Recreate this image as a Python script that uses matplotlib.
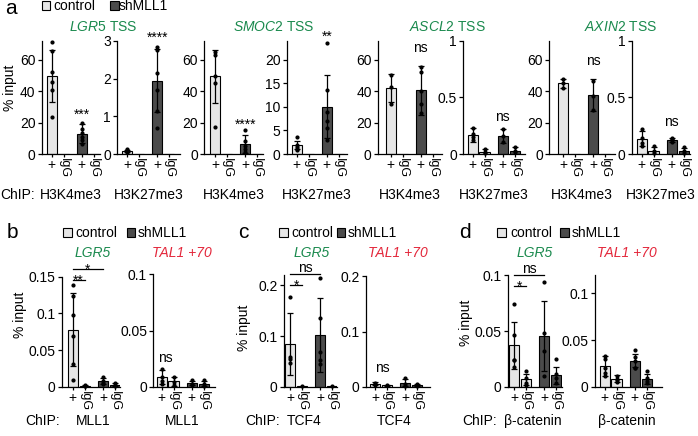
import numpy as np
import matplotlib
matplotlib.use('Agg')
import matplotlib.pyplot as plt
from matplotlib.patches import Rectangle
from matplotlib.ticker import FuncFormatter

W, H = 698, 436
plt.rcParams['font.family'] = ['Liberation Sans', 'DejaVu Sans']
plt.rcParams['font.size'] = 10
plt.rcParams['mathtext.fontset'] = 'custom'
plt.rcParams['mathtext.rm'] = 'Liberation Sans'
plt.rcParams['mathtext.it'] = 'Liberation Sans:italic'

LIGHT = '#e6e6e6'
DARK = '#4b4b4b'
GREEN = '#1b8a4e'
RED = '#e3263a'

tick_names = ['+', 'IgG', '+', 'IgG']
bar_colors = [LIGHT, LIGHT, DARK, DARK]
xpos = [0, 1, 2.55, 3.55]

# ---- panel a: histone marks at TSS (control +, control IgG, shMLL1 +, shMLL1 IgG)
lgr5_k4_mean = [49.5, 0.2, 12.8, 0.2]
lgr5_k4_sd = [16.5, 0, 6, 0]
lgr5_k4_pts = [[71.5, 65.5, 52, 46, 41, 23.5], [], [19.5, 16, 13.5, 11, 9, 6.5], []]

lgr5_k27_mean = [0.08, 0.005, 1.95, 0.005]
lgr5_k27_sd = [0.035, 0, 0.83, 0]
lgr5_k27_pts = [[0.12, 0.1, 0.08, 0.06, 0.05], [], [2.85, 2.75, 2.15, 1.7, 1.15, 0.68], []]

smoc2_k4_mean = [49.5, 0.2, 6.3, 0.2]
smoc2_k4_sd = [17, 0, 5.5, 0]
smoc2_k4_pts = [[65, 63, 50, 45.5, 17.5], [], [15, 8, 5, 3, 1.5], []]

smoc2_k27_mean = [1.9, 0.05, 10, 0.05]
smoc2_k27_sd = [0.9, 0, 6.7, 0]
smoc2_k27_pts = [[3.7, 2.0, 1.5, 1.0, 0.8], [], [23.5, 13.5, 9, 7, 5.5, 3], []]

ascl2_k4_mean = [42, 0.2, 40.5, 0.2]
ascl2_k4_sd = [9, 0, 15.5, 0]
ascl2_k4_pts = [[50.5, 43, 32], [], [55.5, 52, 40, 32, 26], []]

ascl2_k27_mean = [0.17, 0.02, 0.16, 0.03]
ascl2_k27_sd = [0.06, 0.02, 0.06, 0.03]
ascl2_k27_pts = [[0.23, 0.18, 0.15, 0.12], [0.04, 0.02, 0.01], [0.22, 0.16, 0.11], [0.06, 0.03, 0.02]]

axin2_k4_mean = [45, 0.2, 37.5, 0.2]
axin2_k4_sd = [3, 0, 10, 0]
axin2_k4_pts = [[47.5, 45.5, 42], [], [46.5, 37, 28], []]

axin2_k27_mean = [0.135, 0.03, 0.125, 0.025]
axin2_k27_sd = [0.065, 0.03, 0.015, 0.025]
axin2_k27_pts = [[0.22, 0.14, 0.1, 0.07], [0.07, 0.03, 0.01], [0.14, 0.13, 0.12, 0.11], [0.06, 0.03, 0.01]]

# ---- panels b-d: MLL1 / TCF4 / beta-catenin ChIP at LGR5 and TAL1 +70
mll1_lgr5_mean = [0.078, 0.002, 0.0077, 0.003]
mll1_lgr5_sd = [0.05, 0.001, 0.004, 0.002]
mll1_lgr5_pts = [[0.139, 0.124, 0.098, 0.07, 0.031, 0.01], [0.003, 0.002, 0.002],
                 [0.013, 0.008, 0.005, 0.004], [0.005, 0.003, 0.002]]

mll1_tal1_mean = [0.0088, 0.005, 0.0035, 0.003]
mll1_tal1_sd = [0.006, 0.004, 0.002, 0.002]
mll1_tal1_pts = [[0.016, 0.009, 0.005, 0.003], [0.0085, 0.004, 0.002],
                 [0.006, 0.003, 0.002], [0.006, 0.003, 0.001]]

tcf4_lgr5_mean = [0.085, 0.001, 0.103, 0.001]
tcf4_lgr5_sd = [0.061, 0, 0.073, 0]
tcf4_lgr5_pts = [[0.177, 0.06, 0.055, 0.048], [0.001],
                 [0.215, 0.135, 0.068, 0.054, 0.045], [0.001]]

tcf4_tal1_mean = [0.006, 0.003, 0.008, 0.003]
tcf4_tal1_sd = [0.003, 0.001, 0.007, 0.002]
tcf4_tal1_pts = [[0.008, 0.006, 0.004], [0.003], [0.017, 0.005, 0.002], [0.005, 0.002]]

bcat_lgr5_mean = [0.0374, 0.0069, 0.0457, 0.0105]
bcat_lgr5_sd = [0.021, 0.0047, 0.031, 0.0075]
bcat_lgr5_pts = [[0.074, 0.047, 0.024, 0.018, 0.024], [0.0141, 0.008, 0.004, 0.002],
                 [0.094, 0.048, 0.032, 0.01], [0.025, 0.012, 0.008, 0.004]]

bcat_tal1_mean = [0.0225, 0.009, 0.028, 0.0083]
bcat_tal1_sd = [0.0105, 0.0035, 0.007, 0.0055]
bcat_tal1_pts = [[0.033, 0.03, 0.02, 0.015, 0.012], [0.012, 0.009, 0.007, 0.005],
                 [0.04, 0.032, 0.028, 0.02, 0.02], [0.0175, 0.01, 0.006, 0.004]]

fig = plt.figure(figsize=(W / 100, H / 100), dpi=100)

U = 11.8  # pixels per bar slot


def fmt(v, pos):
    return '%g' % v


def make_axes(x0, x1, ybot, ytop, c0, ylim, yticks):
    ax = fig.add_axes([x0 / W, 1 - ybot / H, (x1 - x0) / W, (ybot - ytop) / H])
    ax.set_xlim((x0 - c0) / U, (x1 - c0) / U)
    ax.set_ylim(*ylim)
    ax.set_yticks(yticks)
    ax.yaxis.set_major_formatter(FuncFormatter(fmt))
    for s in ['top', 'right']:
        ax.spines[s].set_visible(False)
    for s in ['left', 'bottom']:
        ax.spines[s].set_linewidth(0.9)
    ax.tick_params(axis='y', length=3, width=0.9, pad=1.5, labelsize=10)
    ax.tick_params(axis='x', length=2, width=0.9, pad=1, labelsize=10)
    ax.set_xticks(xpos)
    labels = ax.set_xticklabels(tick_names)
    for i, lab in enumerate(labels):
        if tick_names[i] == 'IgG':
            lab.set_rotation(270)
            lab.set_va('top')
            lab.set_fontsize(9)
    return ax


def draw_bars(ax, means, sds, pts):
    ax.bar(xpos, means, width=0.85, color=bar_colors, edgecolor='black', linewidth=0.8, zorder=2)
    for x, m, s, p in zip(xpos, means, sds, pts):
        if s > 0:
            ax.errorbar(x, m, yerr=s, fmt='none', ecolor='black', elinewidth=0.9,
                        capsize=2.2, capthick=0.9, zorder=3)
        if p:
            ax.plot([x] * len(p), p, 'o', color='black', markersize=2, zorder=4, clip_on=False)


def figtext(x, y, s, **kw):
    return fig.text(x / W, 1 - y / H, s, **kw)


def legend(x_light, x_ctrl, x_dark, x_sh, yc):
    for xb, col in [(x_light, LIGHT), (x_dark, DARK)]:
        fig.add_artist(Rectangle((xb / W, 1 - (yc + 4.5) / H), 8.5 / W, 9 / H,
                                 transform=fig.transFigure, facecolor=col,
                                 edgecolor='black', linewidth=0.8))
    figtext(x_ctrl, yc, 'control', ha='left', va='center', fontsize=10)
    figtext(x_sh, yc, 'shMLL1', ha='left', va='center', fontsize=10)


def bracket(ax, i, j, y, s, asterisk):
    ax.plot([xpos[i], xpos[j]], [y, y], color='black', lw=0.9, clip_on=False)
    dy = -3.5 if asterisk else 1.5
    ax.annotate(s, ((xpos[i] + xpos[j]) / 2, y), xytext=(0, dy), textcoords='offset points',
                ha='center', va='baseline', fontsize=10, annotation_clip=False)


# ---------------- panel a ----------------
YB, YT = 154, 41
big = (0, 72)
ticks_big = [0, 20, 40, 60]
panel_a = [
    (41.7, 100, 51.7, big, ticks_big, lgr5_k4_mean, lgr5_k4_sd, lgr5_k4_pts, '***', 22.3),
    (117, 180, 127, (0, 3), [0, 1, 2, 3], lgr5_k27_mean, lgr5_k27_sd, lgr5_k27_pts, '****', 2.97),
    (204, 263, 215, big, ticks_big, smoc2_k4_mean, smoc2_k4_sd, smoc2_k4_pts, '****', 15.8),
    (286.7, 347, 296.7, (0, 24), [0, 5, 10, 15, 20], smoc2_k27_mean, smoc2_k27_sd, smoc2_k27_pts, '**', 24.0),
    (378, 442, 390.7, big, ticks_big, ascl2_k4_mean, ascl2_k4_sd, ascl2_k4_pts, 'ns', 64.7),
    (463, 525, 472.7, (0, 1), [0, 0.5, 1], ascl2_k27_mean, ascl2_k27_sd, ascl2_k27_pts, 'ns', 0.29),
    (549, 615, 563.3, big, ticks_big, axin2_k4_mean, axin2_k4_sd, axin2_k4_pts, 'ns', 56.6),
    (631.7, 690, 641.7, (0, 1), [0, 0.5, 1], axin2_k27_mean, axin2_k27_sd, axin2_k27_pts, 'ns', 0.25),
]
chip_a = ['H3K4me3', 'H3K27me3'] * 4
for k, (x0, x1, c0, ylim, yt, m, s, p, sig, sy) in enumerate(panel_a):
    ax = make_axes(x0, x1, YB, YT, c0, ylim, yt)
    draw_bars(ax, m, s, p)
    ax.text(xpos[2], sy, sig, ha='center', va='baseline', fontsize=10, clip_on=False)
    figtext((x0 + x1) / 2, 195, chip_a[k], ha='center', va='center', fontsize=10)

figtext(0.5, 195, 'ChIP:', ha='left', va='center', fontsize=10)
figtext(10, 88, '% input', rotation=90, ha='center', va='center', fontsize=10)
figtext(11, 8, 'a', ha='center', va='center', fontsize=15)
legend(41.7, 53, 110, 118.5, 6)
for xc, gene in [(103, 'LGR5'), (274, 'SMOC2'), (447, 'ASCL2'), (621, 'AXIN2')]:
    figtext(xc, 27, r'$\mathit{%s}$ TSS' % gene, ha='center', va='center', fontsize=10, color=GREEN)

# ---------------- panels b-d ----------------
YB2 = 387
panels_bcd = [
    # letter, letter x, legend x's, chip label, 'ChIP:' x, ylabel x, axes specs
    ('b', 12, (63.3, 75, 126.7, 137.5), 'MLL1', 25, 20,
     [(62, 120, 276.7, 72.8, (0, 0.15), [0, 0.05, 0.1, 0.15], mll1_lgr5_mean, mll1_lgr5_sd, mll1_lgr5_pts, 93),
      (153.3, 215, 274, 161.7, (0, 0.1), [0, 0.05, 0.1], mll1_tal1_mean, mll1_tal1_sd, mll1_tal1_pts, 182.5)]),
    ('c', 243, (279.3, 291.7, 336.7, 347.5), 'TCF4', 245, 243.5,
     [(283.7, 337, 275.3, 290.3, (0, 0.22), [0, 0.1, 0.2], tcf4_lgr5_mean, tcf4_lgr5_sd, tcf4_lgr5_pts, 304),
      (365.7, 430, 276, 375, (0, 0.2), [0, 0.1, 0.2], tcf4_tal1_mean, tcf4_tal1_sd, tcf4_tal1_pts, 394)]),
    ('d', 465, (497.3, 510, 560, 571.7), 'β-catenin', 462.5, 466,
     [(507.5, 562, 275.3, 514, (0, 0.1), [0, 0.05, 0.1], bcat_lgr5_mean, bcat_lgr5_sd, bcat_lgr5_pts, 533),
      (594.7, 662, 274.7, 604.7, (0, 0.12), [0, 0.05, 0.1], bcat_tal1_mean, bcat_tal1_sd, bcat_tal1_pts, 627)]),
]
ylabel_y = {'b': 315, 'c': 328, 'd': 323}
title_x = {'b': (92.7, 181.7), 'c': (311.7, 398), 'd': (535, 626.7)}
ns_pos = {'b': (0.35, 0.0219), 'c': (0.65, 0.0276), 'd': None}
brackets = {
    'b': [(0, 1, 0.1455, '**', True), (0, 2, 0.161, '*', True)],
    'c': [(0, 1, 0.201, '*', True), (0, 2, 0.223, 'ns', False)],
    'd': [(0, 1, 0.0906, '*', True), (0, 2, 0.1003, 'ns', False)],
}

for letter, lx, leg, chip, chipx, ylx, specs in panels_bcd:
    figtext(lx, 233, letter, ha='center', va='center', fontsize=15)
    legend(leg[0], leg[1], leg[2], leg[3], 232.5)
    figtext(chipx, 421, 'ChIP:', ha='left', va='center', fontsize=10)
    figtext(ylx, ylabel_y[letter], '% input', rotation=90, ha='center', va='center', fontsize=10)
    tx1, tx2 = title_x[letter]
    figtext(tx1, 253, 'LGR5', ha='center', va='center', fontsize=10, color=GREEN, fontstyle='italic')
    figtext(tx2, 253, 'TAL1 +70', ha='center', va='center', fontsize=10, color=RED, fontstyle='italic')
    for k, (x0, x1, yt, c0, ylim, yticks, m, s, p, cx) in enumerate(specs):
        ax = make_axes(x0, x1, YB2, yt, c0, ylim, yticks)
        draw_bars(ax, m, s, p)
        figtext(cx, 421, chip, ha='center', va='center', fontsize=10)
        if k == 0:
            for i, j, y, sig, ast in brackets[letter]:
                bracket(ax, i, j, y, sig, ast)
        elif ns_pos[letter] is not None:
            nx, ny = ns_pos[letter]
            ax.text(nx, ny, 'ns', ha='center', va='baseline', fontsize=10)

fig.savefig('out.png', dpi=100)
